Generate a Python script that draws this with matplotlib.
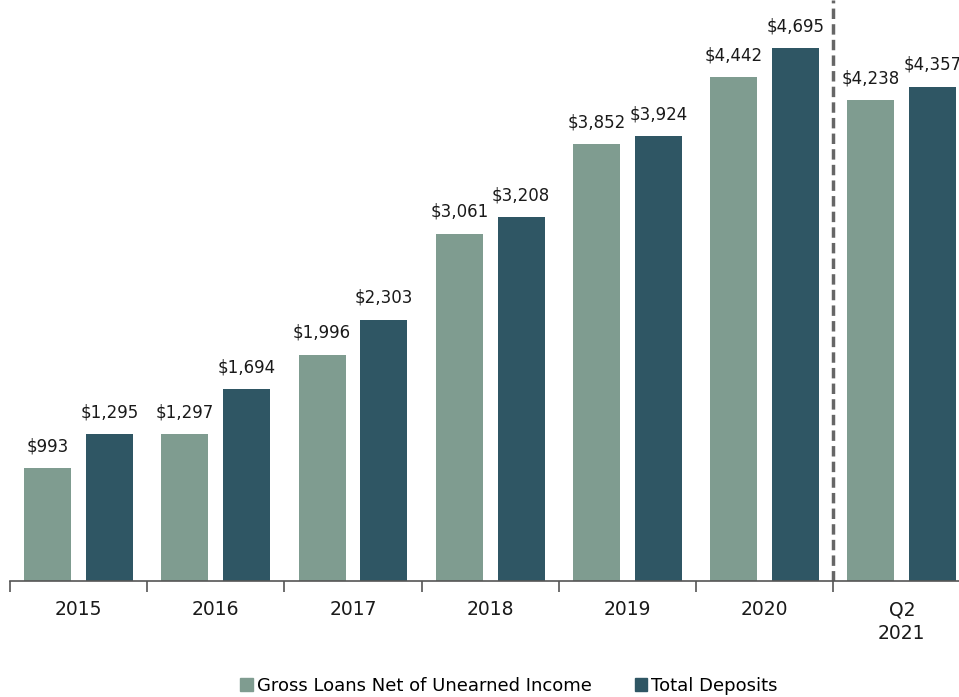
import matplotlib
matplotlib.use("Agg")
import matplotlib.pyplot as plt
from matplotlib.patches import Patch
import numpy as np

categories = ["2015", "2016", "2017", "2018", "2019", "2020", "Q2\n2021"]
loans = [993, 1297, 1996, 3061, 3852, 4442, 4238]
deposits = [1295, 1694, 2303, 3208, 3924, 4695, 4357]
series_names = ["Gross Loans Net of Unearned Income", "Total Deposits"]

c_loans = "#7f9c90"
c_dep = "#2f5664"

plt.rcParams['font.family'] = ['DejaVu Sans']

fig = plt.figure(figsize=(9.59, 6.97), dpi=100)
ax = fig.add_axes([10/959, 116/697, 1 - 10/959, 1 - 116/697])

x = np.arange(len(categories))
w = 0.343
off = 0.225
ax.bar(x - off, loans, w, color=c_loans)
ax.bar(x + off, deposits, w, color=c_dep)

for xs, vals in ((x - off, loans), (x + off, deposits)):
    for xi, v in zip(xs, vals):
        ax.annotate(f"${v:,}", (xi, v), xytext=(0, 12), textcoords="offset points",
                    ha="center", va="baseline", fontsize=12, color="#1a1a1a",
                    annotation_clip=False)

ax.axvline(5.5, color="#666666", linestyle=(0, (3, 1.5)), linewidth=2.5)

for s in ["top", "right", "left"]:
    ax.spines[s].set_visible(False)
ax.spines["bottom"].set_color("#555555")
ax.spines["bottom"].set_linewidth(1.2)
ax.set_yticks([])
ax.set_xticks(np.arange(len(categories)) - 0.5, minor=True)
ax.set_xticks(x)
ax.set_xticklabels(categories, fontsize=13.5, color="#1a1a1a", linespacing=1.3)
ax.tick_params(axis="x", which="major", length=0, pad=14)
ax.tick_params(axis="x", which="minor", length=8, color="#555555", width=1.2)

ax.set_xlim(-0.5, (959 - 10) / 137.2 - 0.5)
ax.set_ylim(0, 5120)

handles = [Patch(color=c_loans, label=series_names[0]), Patch(color=c_dep, label=series_names[1])]
fig.legend(handles=handles, loc="center", bbox_to_anchor=(509/959, 11/697), ncol=2, frameon=False,
           fontsize=13, handlelength=0.7, handleheight=0.7, handletextpad=0.2, columnspacing=2.4)

fig.savefig("out.png", dpi=100)
